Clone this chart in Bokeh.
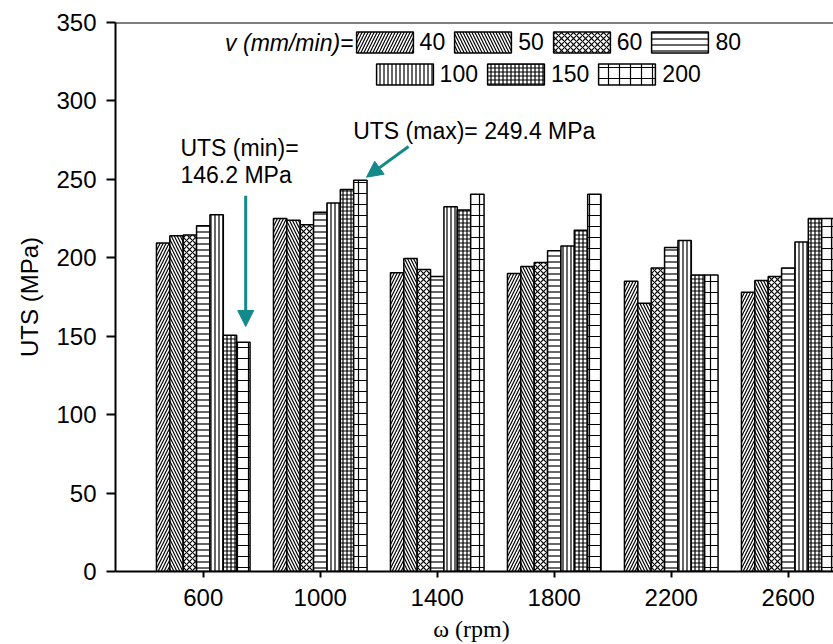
from bokeh.plotting import figure
from bokeh.models import (Range1d, FixedTicker, Span, Label, Arrow, NormalHead,
                          Legend, LegendItem, ColumnDataSource)
from bokeh.transform import dodge
from bokeh.embed import file_html
from bokeh.resources import INLINE

# ---------------- data ----------------
rpm = [600, 1000, 1400, 1800, 2200, 2600]
speeds = ["40", "50", "60", "80", "100", "150", "200"]
uts_40 = [209.5, 225.0, 190.5, 190.0, 185.0, 178.0]
uts_50 = [214.0, 224.0, 199.5, 194.5, 171.0, 185.5]
uts_60 = [214.5, 221.0, 192.5, 197.0, 193.5, 188.0]
uts_80 = [220.5, 229.0, 188.0, 204.5, 206.5, 193.5]
uts_100 = [227.5, 235.0, 232.5, 207.5, 211.0, 210.0]
uts_150 = [150.6, 243.5, 230.5, 217.5, 189.0, 225.0]
uts_200 = [146.2, 249.4, 240.5, 240.5, 189.0, 225.0]
y_ticks = [0, 50, 100, 150, 200, 250, 300, 350]

series = [uts_40, uts_50, uts_60, uts_80, uts_100, uts_150, uts_200]
keys = ["v" + s for s in speeds]
data = {"rpm": rpm}
for k, s in zip(keys, series):
    data[k] = s
src = ColumnDataSource(data)

hatches = ["/", "\\", "x", "-", "|", "+", "+"]
hatch_scales = [6, 6, 6, 6, 4, 4, 11]

FONT = "Liberation Sans"
TEAL = "#14898a"

p = figure(frame_width=718, frame_height=549, output_backend="svg", toolbar_location=None,
           x_range=Range1d(300, 2754.7), y_range=Range1d(0, 350),
           min_border_left=115, min_border_right=0, min_border_top=22,
           min_border_bottom=73)
p.background_fill_color = "white"
p.border_fill_color = "white"
p.outline_line_color = None
p.grid.visible = False

group_w = 400 * 0.8
bw = group_w / 7
renderers = []
for i, k in enumerate(keys):
    r = p.vbar(x=dodge("rpm", (i - 3) * bw, range=p.x_range), top=k, width=bw,
               source=src, fill_color="white", line_color="black", line_width=1.5,
               hatch_pattern=hatches[i], hatch_scale=hatch_scales[i],
               hatch_color="black", hatch_weight=1.2)
    renderers.append(r)

p.add_layout(Span(location=350, dimension="width", line_color="black", line_width=2))

# axes
p.xaxis.ticker = FixedTicker(ticks=rpm)
p.yaxis.ticker = FixedTicker(ticks=y_ticks)
for ax in (p.xaxis[0], p.yaxis[0]):
    ax.axis_line_width = 2
    ax.axis_line_color = "black"
    ax.major_tick_line_width = 2
    ax.major_tick_line_color = "black"
    ax.major_tick_in = 0
    ax.minor_tick_line_color = None
    ax.major_label_text_font = FONT
    ax.major_label_text_color = "black"
    ax.major_label_text_font_size = "24px"
p.yaxis.major_tick_out = 9
p.yaxis.major_label_standoff = 10
p.xaxis.major_tick_out = 6
p.xaxis.major_label_standoff = 11
p.yaxis.axis_label = "UTS (MPa)"
p.yaxis.axis_label_text_font = FONT
p.yaxis.axis_label_text_font_style = "normal"
p.yaxis.axis_label_text_font_size = "24px"
p.yaxis.axis_label_standoff = 10
p.yaxis.axis_label_text_color = "black"
p.xaxis.axis_label = "ω  (rpm)"
p.xaxis.axis_label_text_font = "Liberation Serif"
p.xaxis.axis_label_text_font_style = "normal"
p.xaxis.axis_label_text_font_size = "24px"
p.xaxis.axis_label_standoff = 7
p.xaxis.axis_label_text_color = "black"

# legend
p.add_layout(Label(x=1113.7, y=337.2, text="v (mm/min)=", text_align="right",
                   text_baseline="middle", text_font=FONT, text_font_style="italic",
                   text_font_size="23px", text_color="black"))
common = dict(orientation="horizontal", glyph_width=71, glyph_height=26,
              label_standoff=0, spacing=2, padding=0, margin=0,
              border_line_color=None, background_fill_alpha=0,
              label_text_font=FONT, label_text_font_size="23px",
              label_text_color="black", label_height=26)
leg1 = Legend(items=[LegendItem(label=speeds[i], renderers=[renderers[i]]) for i in range(4)],
              location=(233.6, 515.4), **common)
leg2 = Legend(items=[LegendItem(label=speeds[i], renderers=[renderers[i]]) for i in range(4, 7)],
              location=(253.6, 483.1), **common)
p.add_layout(leg1)
p.add_layout(leg2)

# annotations
imin = uts_200.index(min(uts_200))
imax = uts_200.index(max(uts_200))
x_min_bar = rpm[imin] + 3 * bw
x_max_bar = rpm[imax] + 3 * bw
p.add_layout(Arrow(end=NormalHead(size=16, fill_color=TEAL, line_color=TEAL),
                   x_start=x_min_bar + 8, y_start=239.5,
                   x_end=x_min_bar + 8, y_end=uts_200[imin] + 10,
                   line_color=TEAL, line_width=3))
p.add_layout(Arrow(end=NormalHead(size=16, fill_color=TEAL, line_color=TEAL),
                   x_start=1302, y_start=271,
                   x_end=x_max_bar + 21, y_end=uts_200[imax] + 2,
                   line_color=TEAL, line_width=3))
p.add_layout(Label(x=522, y=270.3, text="UTS (min)=", text_baseline="middle",
                   text_font=FONT, text_font_size="23px", text_color="black"))
p.add_layout(Label(x=522, y=252.8, text=f"{uts_200[imin]:.1f} MPa", text_baseline="middle",
                   text_font=FONT, text_font_size="23px", text_color="black"))
p.add_layout(Label(x=1112.6, y=280.6, text=f"UTS (max)= {uts_200[imax]:.1f} MPa",
                   text_baseline="middle", text_font=FONT, text_font_size="23px",
                   text_color="black"))

open("out.html", "w").write(file_html(p, INLINE))
